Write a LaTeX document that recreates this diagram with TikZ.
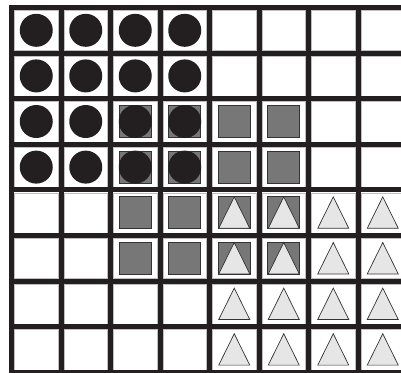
\documentclass[tikz,border=0pt]{standalone}
\usepackage{xcolor}
\usepackage{tikz}

\definecolor{dotblack}{HTML}{231F20}
\definecolor{sqgray}{HTML}{777777}
\definecolor{trigray}{HTML}{E6E6E6}

\tikzset{
  gridline/.style={line width=5pt, draw=dotblack},
  cellbox/.style={draw=black!25, line width=0.6pt, fill=white},
  dot/.style={circle, fill=dotblack, minimum size=33pt, inner sep=0pt},
  sq/.style={rectangle, fill=sqgray, draw=black!80, line width=0.8pt,
    minimum size=32pt, inner sep=0pt},
  tri/.style={fill=trigray, draw=black!80, line width=0.7pt, line join=miter}
}

\begin{document}
\begin{tikzpicture}[x=1pt, y=-1pt]
			\useasboundingbox (0,0) rectangle (401,372);
			\clip (0,0) rectangle (401,372);
			
			% cells
			\foreach \r in {0,...,7}
			\foreach \c in {0,...,7} {
				\coordinate (cell-\r-\c) at ({36.25+49.5*\c},{30.3+45.6*\r});
				\draw[cellbox] ({14.5+49.5*\c},{10.5+45.6*\r}) rectangle ({58+49.5*\c},{50.6+45.6*\r});
			}
			
			% grid
			\foreach \i in {0,...,8}
				\draw[gridline] ({11.5+49.5*\i},5) -- ({11.5+49.5*\i},380);
			\foreach \j in {0,...,8}
				\draw[gridline] (9,{7.5+45.6*\j}) -- (410,{7.5+45.6*\j});
			
			% squares
			\foreach \r in {2,...,5}
			\foreach \c in {2,...,5}
				\node[sq] (sq-\r-\c) at (cell-\r-\c) {};
			
			% circles
			\foreach \r in {0,...,3}
			\foreach \c in {0,...,3}
				\node[dot] (dot-\r-\c) at (cell-\r-\c) {};
			
			% triangles
			\foreach \r in {4,...,7}
			\foreach \c in {4,...,7}
				\draw[tri] ([yshift=15.8pt]cell-\r-\c) -- ++(15.5,31.4) -- ++(-31,0) -- cycle;
		\end{tikzpicture}
\end{document}
